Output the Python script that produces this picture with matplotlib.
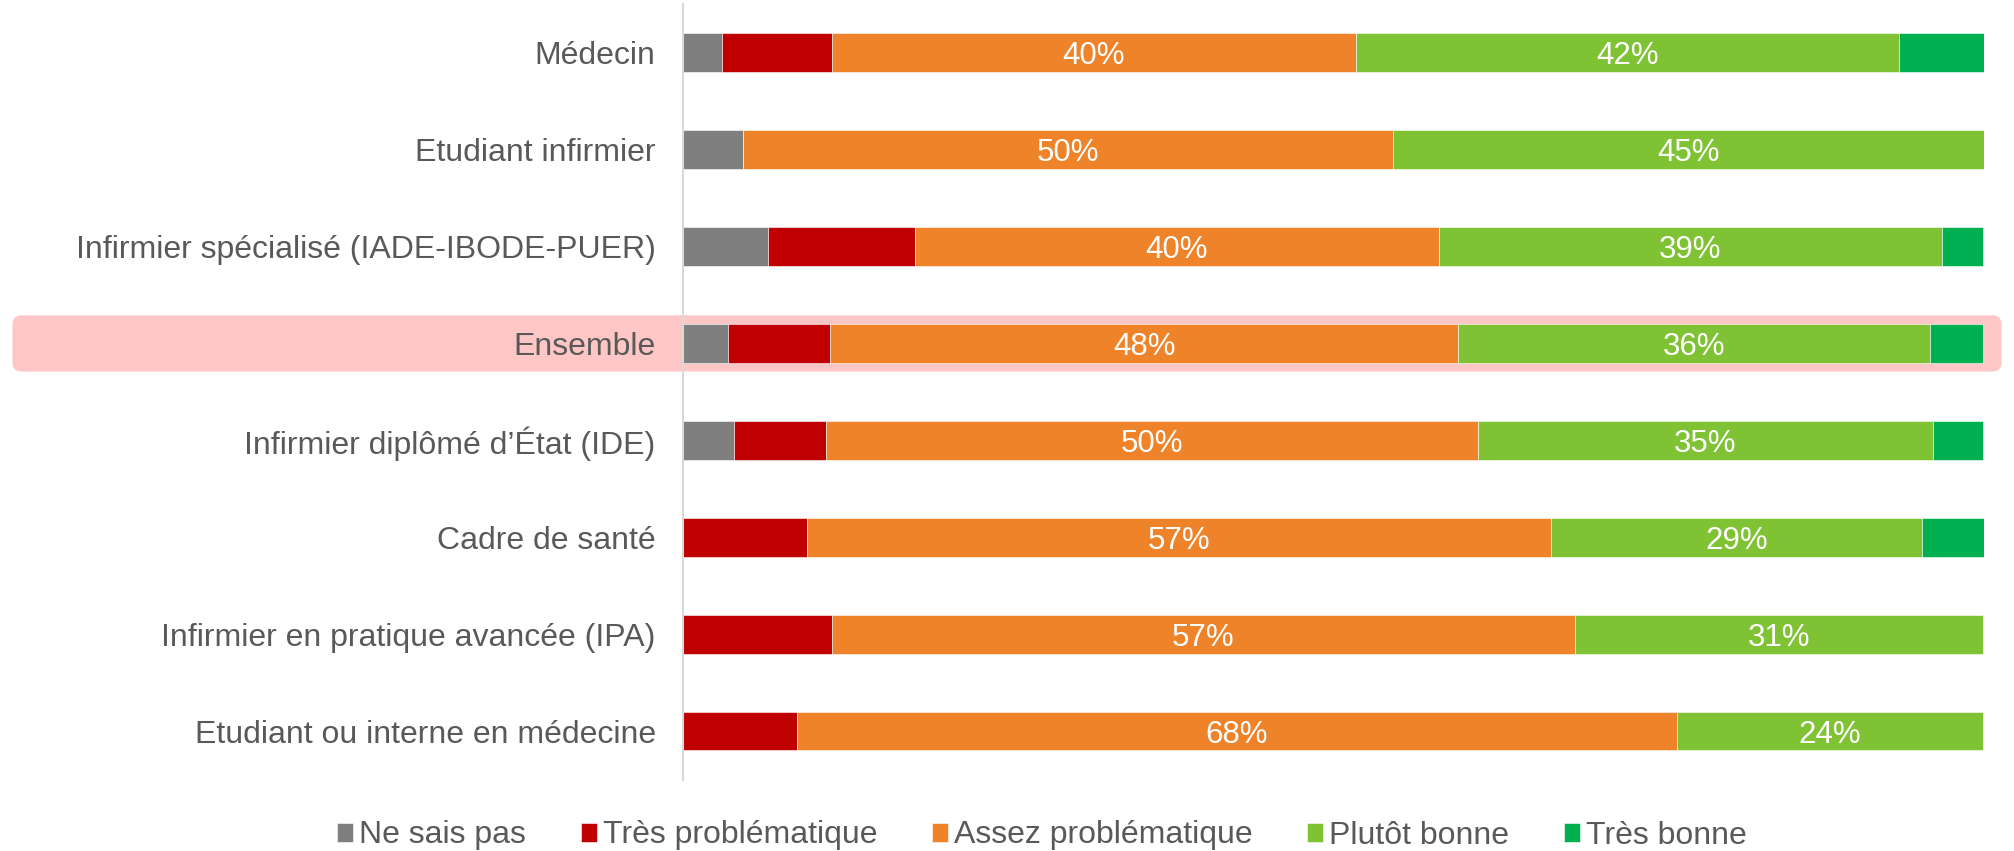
import matplotlib
matplotlib.use("Agg")
import matplotlib.pyplot as plt
from matplotlib.patches import FancyBboxPatch
import numpy as np

plt.rcParams['font.family'] = ['Liberation Sans', 'DejaVu Sans']

categories = [
    "Médecin",
    "Etudiant infirmier",
    "Infirmier spécialisé (IADE-IBODE-PUER)",
    "Ensemble",
    "Infirmier diplômé d’État (IDE)",
    "Cadre de santé",
    "Infirmier en pratique avancée (IPA)",
    "Etudiant ou interne en médecine",
]
series_names = ["Ne sais pas", "Très problématique", "Assez problématique",
                "Plutôt bonne", "Très bonne"]
ne_sais_pas = [3.0, 4.6, 6.5, 3.4, 3.9, 0.0, 0.0, 0.0]
tres_problematique = [8.4, 0.0, 11.3, 7.9, 7.1, 9.5, 11.4, 8.7]
assez_problematique = [40.3, 50.0, 40.3, 48.3, 50.1, 57.2, 57.2, 67.7]
plutot_bonne = [41.8, 45.4, 38.7, 36.3, 35.0, 28.6, 31.4, 23.6]
tres_bonne = [6.5, 0.0, 3.2, 4.1, 3.9, 4.7, 0.0, 0.0]
labelled_series = ["Assez problématique", "Plutôt bonne"]
highlight_category = "Ensemble"

colors = ["#7F7F7F", "#C00000", "#EF8329", "#7FC234", "#00AF50"]
text_color = "#595959"

W, H = 2015, 851
fig = plt.figure(figsize=(W / 100, H / 100), dpi=100)

bg = fig.add_axes([0, 0, 1, 1], zorder=0)
bg.set_xlim(0, W)
bg.set_ylim(H, 0)
bg.axis('off')

ax = fig.add_axes([683.5 / W, 1 - 779.5 / H, 1300 / W, 775.3 / H], zorder=1)
ax.set_facecolor('none')

data = [ne_sais_pas, tres_problematique, assez_problematique, plutot_bonne, tres_bonne]
y = np.arange(len(categories))
left = np.zeros(len(categories))
handles = []
for name, vals, col in zip(series_names, data, colors):
    vals = np.array(vals)
    bars = ax.barh(y, vals, left=left, height=0.4, color=col,
                   edgecolor='white', linewidth=0.4, label=name)
    handles.append(bars)
    if name in labelled_series:
        for yi, l, v in zip(y, left, vals):
            if v > 0:
                ax.text(l + v / 2, yi, f"{round(v):.0f}%", ha='center',
                        va='center_baseline', color='white', fontsize=22.5)
    left = left + vals

ax.set_xlim(0, 100)
ax.set_ylim(len(categories) - 0.5, -0.5)
ax.set_yticks(y)
ax.set_yticklabels(categories, fontsize=23, color=text_color)
ax.tick_params(axis='y', length=0, pad=20)
ax.set_xticks([])
for s in ['top', 'right', 'bottom']:
    ax.spines[s].set_visible(False)
ax.spines['left'].set_color('#D9D9D9')
ax.spines['left'].set_linewidth(1.5)

# highlight band behind the "Ensemble" row
hi = categories.index(highlight_category)
fig.canvas.draw()
inv = bg.transData.inverted()
_, ytop = inv.transform(ax.transData.transform((0, hi - 0.29)))
_, ybot = inv.transform(ax.transData.transform((0, hi + 0.29)))
x_left = 12.5
x_right = inv.transform(ax.transAxes.transform((1, 0)))[0] + 18
box = FancyBboxPatch((x_left, min(ytop, ybot)), x_right - x_left, abs(ybot - ytop),
                     boxstyle="round,pad=0,rounding_size=9",
                     facecolor="#FFC6C6", edgecolor='none')
bg.add_patch(box)

leg = fig.legend(handles, series_names, loc='center',
                 bbox_to_anchor=(1042 / W, 1 - 835.5 / H), ncol=5, frameon=False,
                 fontsize=23, handlelength=0.5, handleheight=0.55,
                 handletextpad=0.2, columnspacing=1.7)
for t in leg.get_texts():
    t.set_color(text_color)

fig.savefig("out.png", dpi=100)
